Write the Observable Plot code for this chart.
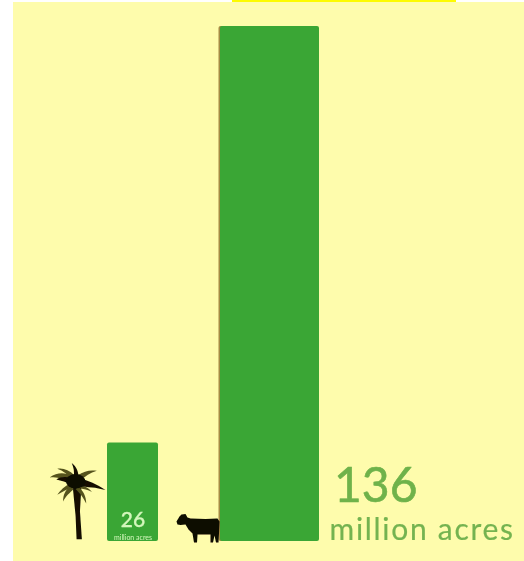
<!DOCTYPE html>
<html>
<head>
<meta charset="utf-8">
<script src="https://cdn.jsdelivr.net/npm/d3@7"></script>
<script src="https://cdn.jsdelivr.net/npm/@observablehq/plot@0.6"></script>
<style>
html,body{margin:0;padding:0;background:#fff;width:524px;height:561px;overflow:hidden}
#panel{position:absolute;left:13px;top:2px;width:511px;height:559px;background:#fefcac}
#mark{position:absolute;left:232px;top:0;width:224px;height:2px;background:#fdfb00}
#chart{position:absolute;left:0;top:0;filter:blur(0.5px)}
svg{display:block;background:transparent!important}
g[aria-description="unit"] text{letter-spacing:1.7px}
</style>
</head>
<body>
<div id="panel"></div>
<div id="mark"></div>
<div id="chart"></div>
<script>
const categories = ["Palm oil", "Cattle"];
const acres = [26, 136];
const valueLabels = ["26", "136"];
const unitLabel = "million acres";

const palmSvg = `<svg xmlns="http://www.w3.org/2000/svg" viewBox="0 0 60 84"><defs><filter id="b" x="-20%" y="-20%" width="140%" height="140%"><feGaussianBlur stdDeviation="0.7"/></filter></defs><g filter="url(#b)"><path fill="#120f05" d="M24 24 L33 24 L31.500 50 L33.500 79 L28 79 L27 55 Z"/><g fill="#55531c"><path d="M24 14 C15 9 8 10 0 15 C8 14 14 16 22 21 Z"/><path d="M26 13 C20 7 14 5 8 6 C14 8 19 12 23 17 Z"/><path d="M29 13 C36 8 42 7 49 8 C42 10 37 14 32 18 Z"/><path d="M22 21 C16 24 11 28 8 33 C13 30 18 28 23 25 Z"/><path d="M22 24 C16 28 14 33 14 40 C17 34 21 31 25 27 Z"/><path d="M30 25 C35 29 38 35 38 42 C35 36 32 32 27 27 Z"/><path d="M32 23 C37 24 41 26 44 30 C40 28 35 27 30 26 Z"/></g><g fill="#120f05"><path d="M25 15 C26 9 25 5 23 0 C28 4 30 9 30 15 Z"/><path d="M31 16 C40 18 49 22 58 28 C48 25 40 25 30 24 Z"/><path d="M23 16 C18 14 12 14 7 17 C12 18 18 20 22 22 Z"/></g><ellipse cx="27" cy="19" rx="10" ry="7.500" fill="#0d0b03"/></g></svg>`;
const cowSvg = `<svg xmlns="http://www.w3.org/2000/svg" viewBox="0 0 46 30"><defs><filter id="b" x="-10%" y="-10%" width="120%" height="120%"><feGaussianBlur stdDeviation="0.4"/></filter></defs><path filter="url(#b)" fill="#0f0c04" d="M1 8 L4 3 L6 1 L10 0.500 L12 4 L15 5 L30 5.500 L42 5 L44 8 L43.500 20 L43 29 L40.500 29 L39 22 L37.500 29 L35 29 L35 21 L27 21 L22 21 L21.500 29 L18.500 29 L17 20 L13 16 L10 11 L5 11.500 L2 11 Z"/></svg>`;
const toUri = s => "data:image/svg+xml;utf8," + encodeURIComponent(s);

const barColor = "#3aa635";
const rows = categories.map((category, i) => ({category, value: acres[i], label: valueLabels[i]}));
const palm = rows.filter(d => d.category === "Palm oil");
const cattle = rows.filter(d => d.category === "Cattle");
const font = "Lato, 'Noto Sans', sans-serif";

const plot = Plot.plot({
  width: 524,
  height: 561,
  margin: 0,
  style: {background: "transparent"},
  x: {type: "band", domain: categories, range: [64, 338], paddingInner: 38 / 137, paddingOuter: 19 / 137, round: false, axis: null},
  y: {type: "linear", domain: [0, 136], range: [541, 26], axis: null},
  marks: [
    // soft brown edge on the left of the tall bar
    Plot.barY(cattle, {x: "category", y: "value", fill: "#a58a45", dx: -1.5, rx: 2}),
    Plot.barY(palm, {x: "category", y: "value", fill: barColor, insetLeft: 24, insetRight: 24, rx: 2}),
    Plot.barY(cattle, {x: "category", y: "value", fill: barColor, rx: 2}),
    Plot.text(palm, {x: "category", y: 0, text: "label", dy: -21, fontSize: 21, fontWeight: 500, fontFamily: font, fill: "#d4f7bc", stroke: "#d4f7bc", strokeWidth: 0.3}),
    Plot.text(palm, {x: "category", y: 0, text: () => unitLabel, dy: -4, fontSize: 7, fontFamily: font, fill: "#d4f7bc"}),
    Plot.text(cattle, {x: "category", y: 0, text: "label", dx: 64, dy: -55, textAnchor: "start", fontSize: 48, fontFamily: font, fill: "#6fb24a", stroke: "#6fb24a", strokeWidth: 0.6}),
    Plot.text(cattle, {x: "category", y: 0, text: () => unitLabel, dx: 59.5, dy: -11, textAnchor: "start", fontSize: 30, fontFamily: font, fill: "#74b350", stroke: "#74b350", strokeWidth: 0.2, ariaDescription: "unit"}),
    Plot.image(palm, {x: "category", y: 0, src: () => toUri(palmSvg), width: 58, height: 81, dx: -54.5, dy: -38}),
    Plot.image(cattle, {x: "category", y: 0, src: () => toUri(cowSvg), width: 46, height: 30, dx: -71.5, dy: -13})
  ]
});
document.getElementById("chart").appendChild(plot);
</script>
</body>
</html>
